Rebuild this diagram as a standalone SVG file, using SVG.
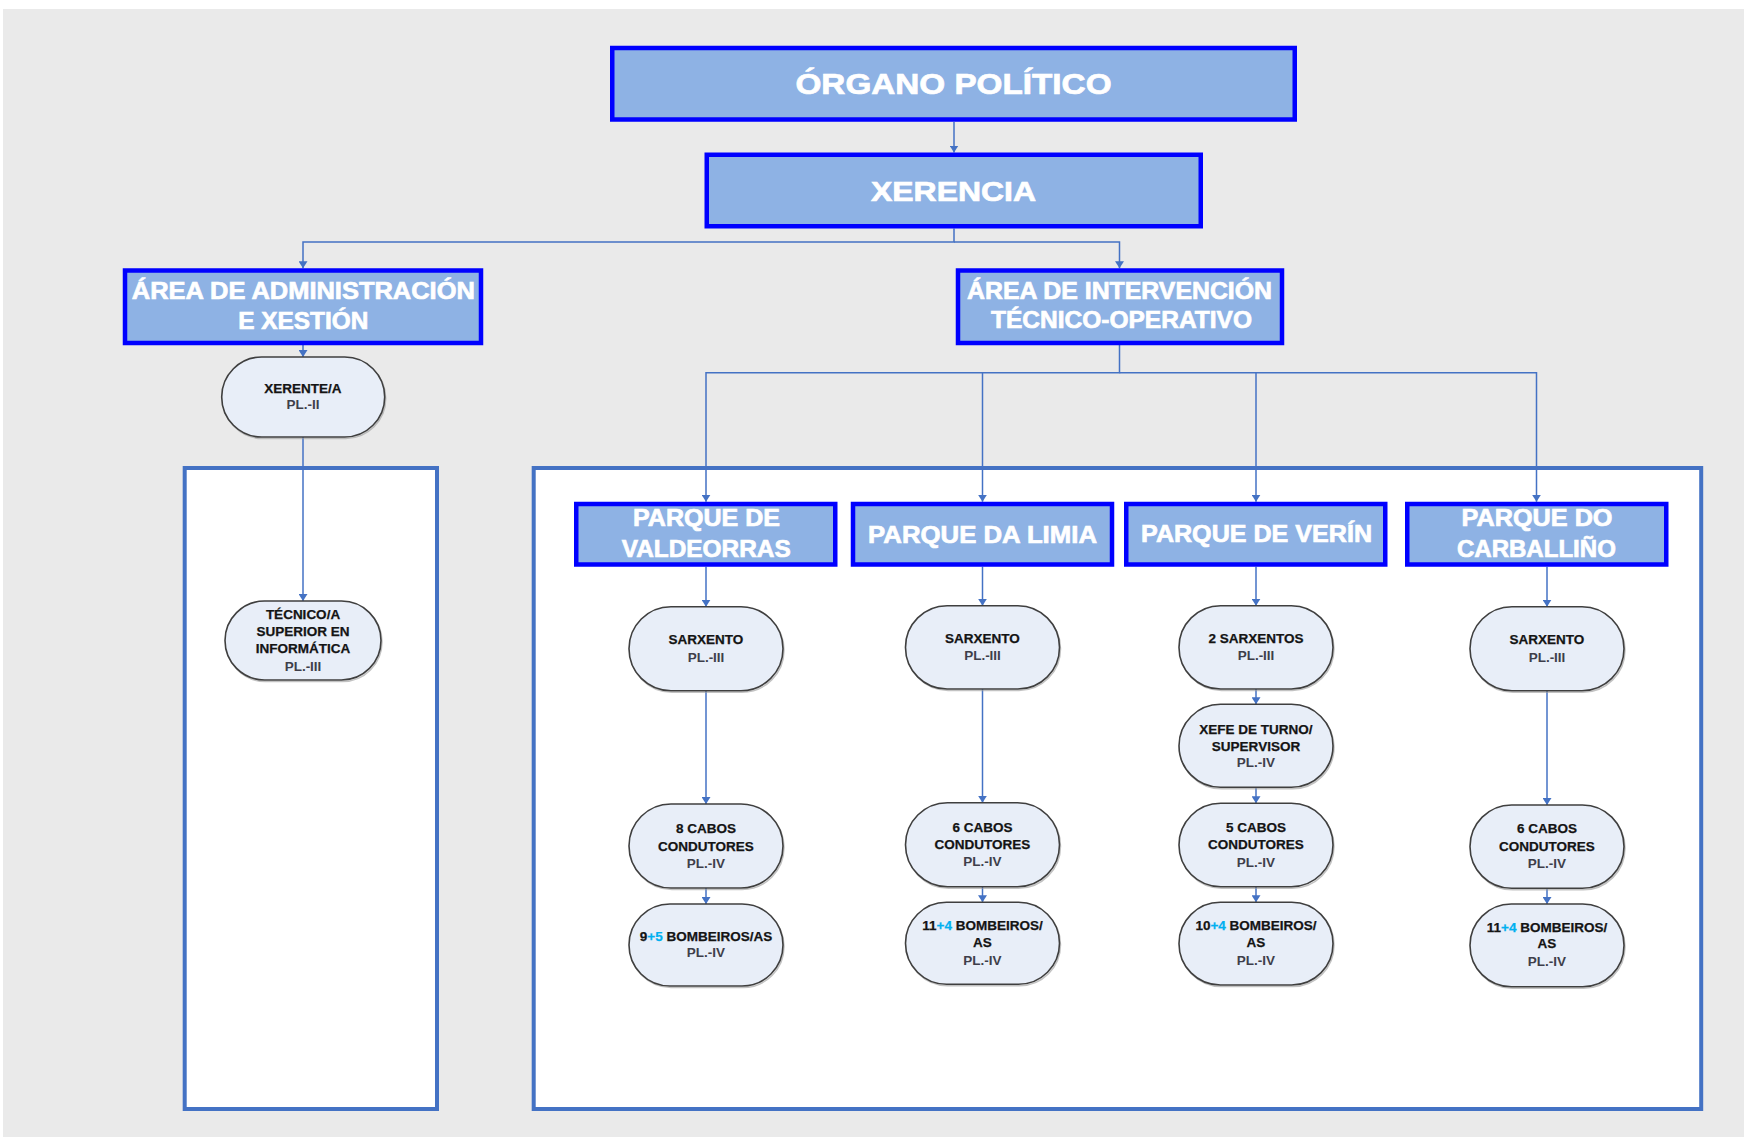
<svg xmlns="http://www.w3.org/2000/svg" width="1744" height="1137" viewBox="0 0 1744 1137">
<style>
.bg{fill:#EAEAEA}
.panel{fill:#FFFFFF;stroke:#4472C4;stroke-width:4}
.hdr{fill:#8EB2E4;stroke:#0000FF;stroke-width:4.5}
.ht{font-family:"Liberation Sans",Arial,sans-serif;font-weight:bold;fill:#FFFFFF;stroke:#FFFFFF;stroke-width:0.7;text-anchor:middle}
.node{fill:#E8EEF8;stroke:#3F3F3F;stroke-width:1.6}
.shadow{fill:none;stroke:#9A9A9A;stroke-width:1.5;opacity:0.6}
.nt{font-family:"Liberation Sans",Arial,sans-serif;font-weight:bold;font-size:13.5px;fill:#141414;stroke:#141414;stroke-width:0.25;text-anchor:middle}
.pl{fill:#3E3E4A;stroke:none}
.plus{fill:#00B0F0;stroke:#00B0F0}
.conn{fill:none;stroke:#4472C4;stroke-width:1.5}
</style>
<defs>
<marker id="arr" markerUnits="userSpaceOnUse" markerWidth="8" markerHeight="9" refX="7" refY="4.5" orient="auto">
<path d="M0,0 L7,4.5 L0,9 z" fill="#4472C4"/>
</marker>
</defs>

<rect class="bg" x="3" y="9" width="1741" height="1128"/>

<g id="panels">
<rect class="panel" x="184.7" y="468" width="252.3" height="641"/>
<rect class="panel" x="533.7" y="468" width="1167.5" height="641"/>
</g>

<g id="connectors">
<path class="conn" d="M954,122 V152.5" marker-end="url(#arr)"/>
<path class="conn" d="M954,228.5 V242 H303 V268.3" marker-end="url(#arr)"/>
<path class="conn" d="M954,242 H1119.5 V268.3" marker-end="url(#arr)"/>
<path class="conn" d="M303,345 V357" marker-end="url(#arr)"/>
<path class="conn" d="M303,437 V601" marker-end="url(#arr)"/>
<path class="conn" d="M1119.5,345 V372.7 H706 V501.7" marker-end="url(#arr)"/>
<path class="conn" d="M1119.5,372.7 H1536.5 V501.7" marker-end="url(#arr)"/>
<path class="conn" d="M982.5,372.7 V501.7" marker-end="url(#arr)"/>
<path class="conn" d="M1256,372.7 V501.7" marker-end="url(#arr)"/>
<path class="conn" d="M706,566.7 V606.7" marker-end="url(#arr)"/>
<path class="conn" d="M982.5,566.7 V605.7" marker-end="url(#arr)"/>
<path class="conn" d="M1256,566.7 V605.7" marker-end="url(#arr)"/>
<path class="conn" d="M1547,566.7 V606.7" marker-end="url(#arr)"/>
<path class="conn" d="M706,690.7 V804" marker-end="url(#arr)"/>
<path class="conn" d="M982.5,689 V802.7" marker-end="url(#arr)"/>
<path class="conn" d="M1547,690.7 V805" marker-end="url(#arr)"/>
<path class="conn" d="M1256,689 V704.3" marker-end="url(#arr)"/>
<path class="conn" d="M1256,787.3 V803.3" marker-end="url(#arr)"/>
<path class="conn" d="M706,887.7 V904" marker-end="url(#arr)"/>
<path class="conn" d="M982.5,886.7 V902.3" marker-end="url(#arr)"/>
<path class="conn" d="M1256,886.7 V902.3" marker-end="url(#arr)"/>
<path class="conn" d="M1547,888.3 V904" marker-end="url(#arr)"/>
</g>

<g id="organo">
<rect class="hdr" x="612.25" y="48" width="682.5" height="71.5"/>
<text class="ht" x="953.5" y="93.5" font-size="29" textLength="316" lengthAdjust="spacingAndGlyphs">ÓRGANO POLÍTICO</text>
</g>
<g id="xerencia">
<rect class="hdr" x="706.75" y="154.75" width="494" height="71.5"/>
<text class="ht" x="953.5" y="200.7" font-size="28" textLength="165" lengthAdjust="spacingAndGlyphs">XERENCIA</text>
</g>
<g id="area-admin">
<rect class="hdr" x="125" y="270.5" width="356" height="72.5"/>
<text class="ht" x="303.3" y="299" font-size="24" textLength="343" lengthAdjust="spacingAndGlyphs">ÁREA DE ADMINISTRACIÓN</text>
<text class="ht" x="303.3" y="329" font-size="24" textLength="130" lengthAdjust="spacingAndGlyphs">E XESTIÓN</text>
</g>
<g id="area-intervencion">
<rect class="hdr" x="958" y="270.5" width="324" height="72.5"/>
<text class="ht" x="1119.5" y="299" font-size="24" textLength="305" lengthAdjust="spacingAndGlyphs">ÁREA DE INTERVENCIÓN</text>
<text class="ht" x="1121.5" y="328.3" font-size="24" textLength="261" lengthAdjust="spacingAndGlyphs">TÉCNICO-OPERATIVO</text>
</g>
<g id="parque-valdeorras">
<rect class="hdr" x="576.25" y="504" width="259" height="60.5"/>
<text class="ht" x="706.5" y="526" font-size="24" textLength="147" lengthAdjust="spacingAndGlyphs">PARQUE DE</text>
<text class="ht" x="706.2" y="557.3" font-size="24" textLength="169" lengthAdjust="spacingAndGlyphs">VALDEORRAS</text>
</g>
<g id="parque-limia">
<rect class="hdr" x="853" y="504" width="259" height="60.5"/>
<text class="ht" x="982.5" y="542.7" font-size="24" textLength="229" lengthAdjust="spacingAndGlyphs">PARQUE DA LIMIA</text>
</g>
<g id="parque-verin">
<rect class="hdr" x="1126.25" y="504" width="259" height="60.5"/>
<text class="ht" x="1256.5" y="541.7" font-size="24" textLength="231" lengthAdjust="spacingAndGlyphs">PARQUE DE VERÍN</text>
</g>
<g id="parque-carballino">
<rect class="hdr" x="1407.25" y="504" width="259" height="60.5"/>
<text class="ht" x="1537" y="526" font-size="24" textLength="151" lengthAdjust="spacingAndGlyphs">PARQUE DO</text>
<text class="ht" x="1536.4" y="557.3" font-size="24" textLength="159" lengthAdjust="spacingAndGlyphs">CARBALLIÑO</text>
</g>

<g id="xerente">
<rect class="shadow" x="222.7" y="358.5" width="163" height="80" rx="40"/>
<rect class="node" x="221.7" y="357" width="163" height="80" rx="40"/>
<text class="nt" x="303" y="392.7">XERENTE/A</text>
<text class="nt pl" x="303" y="409">PL.-II</text>
</g>
<g id="tecnico">
<rect class="shadow" x="226" y="602.5" width="156" height="79" rx="39.5"/>
<rect class="node" x="225" y="601" width="156" height="79" rx="39.5"/>
<text class="nt" x="303" y="619.3">TÉCNICO/A</text>
<text class="nt" x="303" y="636">SUPERIOR EN</text>
<text class="nt" x="303" y="652.7">INFORMÁTICA</text>
<text class="nt pl" x="303" y="670.7">PL.-III</text>
</g>

<g id="v-sarxento">
<rect class="shadow" x="630" y="608.2" width="154" height="84" rx="42"/>
<rect class="node" x="629" y="606.7" width="154" height="84" rx="42"/>
<text class="nt" x="706" y="644.3">SARXENTO</text>
<text class="nt pl" x="706" y="662.3">PL.-III</text>
</g>
<g id="v-cabos">
<rect class="shadow" x="630" y="805.5" width="154" height="84" rx="42"/>
<rect class="node" x="629" y="804" width="154" height="84" rx="42"/>
<text class="nt" x="706" y="833.3">8 CABOS</text>
<text class="nt" x="706" y="851">CONDUTORES</text>
<text class="nt pl" x="706" y="867.7">PL.-IV</text>
</g>
<g id="v-bombeiros">
<rect class="shadow" x="630" y="905.5" width="154" height="82" rx="41"/>
<rect class="node" x="629" y="904" width="154" height="82" rx="41"/>
<text class="nt" x="706" y="940.7">9<tspan class="plus">+5</tspan> BOMBEIROS/AS</text>
<text class="nt pl" x="706" y="957.3">PL.-IV</text>
</g>

<g id="l-sarxento">
<rect class="shadow" x="906.5" y="607.2" width="154" height="83.3" rx="41.6"/>
<rect class="node" x="905.5" y="605.7" width="154" height="83.3" rx="41.6"/>
<text class="nt" x="982.5" y="642.7">SARXENTO</text>
<text class="nt pl" x="982.5" y="660">PL.-III</text>
</g>
<g id="l-cabos">
<rect class="shadow" x="906.5" y="804.2" width="154" height="84" rx="42"/>
<rect class="node" x="905.5" y="802.7" width="154" height="84" rx="42"/>
<text class="nt" x="982.5" y="831.7">6 CABOS</text>
<text class="nt" x="982.5" y="849">CONDUTORES</text>
<text class="nt pl" x="982.5" y="866">PL.-IV</text>
</g>
<g id="l-bombeiros">
<rect class="shadow" x="906.5" y="903.8" width="154" height="82" rx="41"/>
<rect class="node" x="905.5" y="902.3" width="154" height="82" rx="41"/>
<text class="nt" x="982.5" y="930">11<tspan class="plus">+4</tspan> BOMBEIROS/</text>
<text class="nt" x="982.5" y="946.7">AS</text>
<text class="nt pl" x="982.5" y="965">PL.-IV</text>
</g>

<g id="ve-sarxentos">
<rect class="shadow" x="1180" y="607.2" width="154" height="83.3" rx="41.6"/>
<rect class="node" x="1179" y="605.7" width="154" height="83.3" rx="41.6"/>
<text class="nt" x="1256" y="642.7">2 SARXENTOS</text>
<text class="nt pl" x="1256" y="660">PL.-III</text>
</g>
<g id="ve-xefe">
<rect class="shadow" x="1180" y="705.8" width="154" height="83" rx="41.5"/>
<rect class="node" x="1179" y="704.3" width="154" height="83" rx="41.5"/>
<text class="nt" x="1256" y="734">XEFE DE TURNO/</text>
<text class="nt" x="1256" y="750.7">SUPERVISOR</text>
<text class="nt pl" x="1256" y="767.3">PL.-IV</text>
</g>
<g id="ve-cabos">
<rect class="shadow" x="1180" y="804.8" width="154" height="83.4" rx="41.7"/>
<rect class="node" x="1179" y="803.3" width="154" height="83.4" rx="41.7"/>
<text class="nt" x="1256" y="832.3">5 CABOS</text>
<text class="nt" x="1256" y="849">CONDUTORES</text>
<text class="nt pl" x="1256" y="866.7">PL.-IV</text>
</g>
<g id="ve-bombeiros">
<rect class="shadow" x="1180" y="903.8" width="154" height="82.7" rx="41.3"/>
<rect class="node" x="1179" y="902.3" width="154" height="82.7" rx="41.3"/>
<text class="nt" x="1256" y="930">10<tspan class="plus">+4</tspan> BOMBEIROS/</text>
<text class="nt" x="1256" y="947.3">AS</text>
<text class="nt pl" x="1256" y="965">PL.-IV</text>
</g>

<g id="c-sarxento">
<rect class="shadow" x="1471" y="608.2" width="154" height="84" rx="42"/>
<rect class="node" x="1470" y="606.7" width="154" height="84" rx="42"/>
<text class="nt" x="1547" y="644.3">SARXENTO</text>
<text class="nt pl" x="1547" y="662.3">PL.-III</text>
</g>
<g id="c-cabos">
<rect class="shadow" x="1471" y="806.5" width="154" height="83.3" rx="41.6"/>
<rect class="node" x="1470" y="805" width="154" height="83.3" rx="41.6"/>
<text class="nt" x="1547" y="833.3">6 CABOS</text>
<text class="nt" x="1547" y="851">CONDUTORES</text>
<text class="nt pl" x="1547" y="867.7">PL.-IV</text>
</g>
<g id="c-bombeiros">
<rect class="shadow" x="1471" y="905.5" width="154" height="82.7" rx="41.3"/>
<rect class="node" x="1470" y="904" width="154" height="82.7" rx="41.3"/>
<text class="nt" x="1547" y="931.7">11<tspan class="plus">+4</tspan> BOMBEIROS/</text>
<text class="nt" x="1547" y="948.3">AS</text>
<text class="nt pl" x="1547" y="965.7">PL.-IV</text>
</g>
</svg>
